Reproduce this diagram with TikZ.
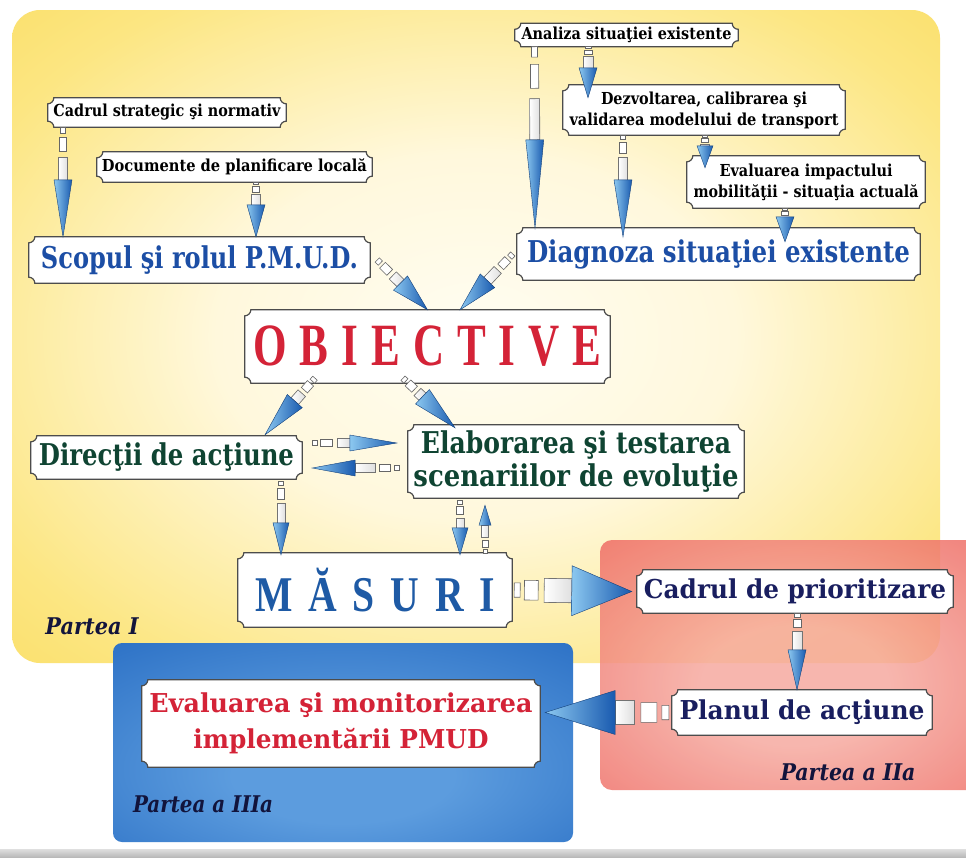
\documentclass[tikz,border=0pt]{standalone}
\usepackage{graphicx}
\usepackage{fontspec}
\setmainfont{DejaVu Serif}
\newfontfamily\timesf{Liberation Serif}
\usetikzlibrary{calc}
\pgfdeclarelayer{bg}\pgfdeclarelayer{plq}
\pgfsetlayers{bg,plq,main}

\definecolor{tblue}{RGB}{28,78,165}
\definecolor{tred}{RGB}{212,35,55}
\definecolor{tgreen}{RGB}{15,68,50}
\definecolor{tnavy}{RGB}{25,30,95}
\definecolor{mblue}{RGB}{30,90,165}
\definecolor{plab}{RGB}{18,20,60}
\definecolor{hlight}{RGB}{140,200,240}
\definecolor{hdark}{RGB}{25,90,175}
\definecolor{ywhite}{RGB}{255,253,242}
\definecolor{ypale}{RGB}{255,248,220}
\definecolor{ymid}{RGB}{252,230,130}
\definecolor{yedge}{RGB}{249,218,88}
\definecolor{ydeep}{RGB}{246,208,62}
\definecolor{rpale}{RGB}{246,170,160}
\definecolor{rdeep}{RGB}{237,96,88}
\definecolor{bpale}{RGB}{92,156,222}
\definecolor{bdeep}{RGB}{30,100,190}

\pgfdeclareradialshading{yshade}{\pgfpoint{0bp}{0bp}}{color(0bp)=(ywhite); color(14bp)=(ypale); color(30bp)=(ymid); color(42bp)=(yedge); color(71bp)=(ydeep)}
\pgfdeclareradialshading{rshade}{\pgfpoint{0bp}{-5bp}}{color(0bp)=(rpale); color(12bp)=(rpale); color(42bp)=(rdeep); color(71bp)=(rdeep)}
\pgfdeclareradialshading{bshade}{\pgfpoint{0bp}{-10bp}}{color(0bp)=(bpale); color(12bp)=(bpale); color(48bp)=(bdeep); color(71bp)=(bdeep)}

\newcommand\fitw[2]{\resizebox{#1}{\height}{#2}}

% plaque frame with concave corners around a node
\newcommand\plq[2][6pt]{%
 \begin{pgfonlayer}{plq}
 \filldraw[plqline] ([xshift=#1]#2.north west) -- ([xshift=-#1]#2.north east)
  arc[start angle=180,end angle=270,radius=#1] -- ([yshift=#1]#2.south east)
  arc[start angle=90,end angle=180,radius=#1] -- ([xshift=#1]#2.south west)
  arc[start angle=0,end angle=90,radius=#1] -- ([yshift=-#1]#2.north west)
  arc[start angle=270,end angle=360,radius=#1] -- cycle;
 \end{pgfonlayer}}

% one tail segment between fractions #1 and #2 of bs--bt, half width #3
\newcommand\tailseg[3]{%
 \filldraw[sqbox] ($(bs)!#1!(bt)!#3!90:(be)$) -- ($(bs)!#2!(bt)!#3!90:(be)$) -- ($(bs)!#2!(bt)!#3!-90:(be)$) -- ($(bs)!#1!(bt)!#3!-90:(be)$) -- cycle;}

% blue arrow: start, end, tail length, shaft half width, head length, head half width
\newcommand\blarr[6]{%
 \coordinate (bs) at #1; \coordinate (be) at #2;
 \coordinate (bt) at ($(bs)!#3!(be)$);
 \coordinate (bh) at ($(be)!#5!(bs)$);
 \pgfmathsetlengthmacro\hwa{0.6*#4}\pgfmathsetlengthmacro\hwb{0.82*#4}%
 \tailseg{0}{0.2}{\hwa}
 \tailseg{0.34}{0.8}{\hwb}
 \filldraw[shaftbox] ($(bt)!#4!90:(be)$) -- ($(bh)!#4!-90:(bs)$) -- ($(bh)!#4!90:(bs)$) -- ($(bt)!#4!-90:(be)$) -- cycle;
 \shade[headshade] (be) -- ($(bh)!#6!90:(be)$) -- ($(bh)!#6!-90:(be)$) -- cycle;
 \draw[headline] (be) -- ($(bh)!#6!90:(be)$) -- ($(bh)!#6!-90:(be)$) -- cycle;
}

\begin{document}
\begin{tikzpicture}[x=1pt,y=1pt,
 plqline/.style={fill=white,draw=black!70,line width=1.2pt},
 sqbox/.style={fill=white,draw=black!60,line width=0.6pt},
 shaftbox/.style={left color=white,right color=gray!25,draw=black!55,line width=0.6pt},
 headshade/.style={left color=hlight,right color=hdark},
 headline/.style={draw=hdark!70!black,line width=0.4pt},
 box/.style={inner sep=0pt,align=center},
 small/.style={box,font=\bfseries\fontsize{16.5}{21}\selectfont},
 title/.style={box,font=\bfseries\fontsize{30}{33}\selectfont},
 mid/.style={box,font=\bfseries\fontsize{26}{36}\selectfont},
 huge/.style={box,font=\timesf\bfseries\fontsize{60}{60}\selectfont},
 part/.style={inner sep=0pt,text=plab,font=\bfseries\itshape\fontsize{23}{24}\selectfont}]
\useasboundingbox (0,0) rectangle (966,-857);

\begin{pgfonlayer}{bg}
 \fill[white] (0,0) rectangle (966,-857);
 \shade[shading=yshade,rounded corners=28pt] (12,-10) rectangle (940,-663);
 \shade[shading=rshade,rounded corners=12pt,fill opacity=0.85] (600,-540) rectangle (990,-790);
 \shade[shading=bshade,rounded corners=9pt] (113,-643) rectangle (573,-842);
 \shade[top color=gray!25,bottom color=gray!55] (0,-849) rectangle (966,-857);
\end{pgfonlayer}

% nodes
\node[small,minimum width=238pt,minimum height=29pt] (cad) at (167,-112.5) {\fitw{227pt}{Cadrul strategic şi normativ}};
\node[small,minimum width=275pt,minimum height=30pt] (doc) at (234.5,-167) {\fitw{265pt}{Documente de planificare locală}};
\node[title,text=tblue,minimum width=341pt,minimum height=46pt] (scop) at (199.5,-260) {\fitw{317pt}{Scopul şi rolul P.M.U.D.}};
\node[small,minimum width=223pt,minimum height=23pt] (anal) at (626.5,-35) {\fitw{210pt}{Analiza situaţiei existente}};
\node[small,minimum width=282pt,minimum height=50pt] (dezv) at (704,-110) {\fitw{206pt}{Dezvoltarea, calibrarea şi}\\\fitw{269pt}{validarea modelului de transport}};
\node[small,minimum width=238pt,minimum height=52pt] (evimp) at (806,-182) {\fitw{173pt}{Evaluarea impactului}\\\fitw{225pt}{mobilităţii - situaţia actuală}};
\node[title,text=tblue,minimum width=403pt,minimum height=52pt] (diag) at (718.5,-254) {\fitw{383pt}{Diagnoza situaţiei existente}};
\node[huge,text=tred,minimum width=365pt,minimum height=73pt] (obj) at (427.5,-346.5) {\fitw{348pt}{O\hspace{18pt}B\hspace{18pt}I\hspace{18pt}E\hspace{18pt}C\hspace{18pt}T\hspace{18pt}I\hspace{18pt}V\hspace{18pt}E}};
\node[title,text=tgreen,minimum width=271pt,minimum height=43pt] (dir) at (166.5,-457.5) {\fitw{255pt}{Direcţii de acţiune}};
\node[title,text=tgreen,minimum width=336pt,minimum height=73pt] (elab) at (576,-461.5) {\fitw{310pt}{Elaborarea şi testarea}\\\fitw{325pt}{scenariilor de evoluţie}};
\node[huge,text=mblue,font=\timesf\bfseries\fontsize{50}{50}\selectfont,minimum width=274pt,minimum height=74pt] (mas) at (375,-590) {\fitw{240pt}{M\hspace{20pt}Ă\hspace{20pt}S\hspace{20pt}U\hspace{20pt}R\hspace{20pt}I}};
\node[mid,text=tnavy,minimum width=316pt,minimum height=43pt] (cadp) at (795,-591.5) {\fitw{302pt}{Cadrul de prioritizare}};
\node[mid,text=tnavy,minimum width=260pt,minimum height=45pt] (plan) at (802,-712.5) {\fitw{245pt}{Planul de acţiune}};
\node[mid,text=tred,minimum width=398pt,minimum height=87pt] (evmon) at (341,-723.5) {\fitw{383pt}{Evaluarea şi monitorizarea}\\\fitw{295pt}{implementării PMUD}};

\foreach \n in {cad,doc,scop,anal,dezv,evimp,diag,obj,dir,elab,mas,cadp,plan,evmon}{\plq{\n}}

% part labels
\node[part] (p1) at (92,-626) {\fitw{93pt}{Partea I}};
\node[part] (p2) at (848,-772) {\fitw{135pt}{Partea a IIa}};
\node[part] (p3) at (203,-804) {\fitw{140pt}{Partea a IIIa}};

% arrows
\blarr{([xshift=-104pt]cad.south)}{([xshift=-136.5pt]scop.north)}{30pt}{4.5pt}{57pt}{9pt}
\blarr{([xshift=21.5pt]doc.south)}{([xshift=56.5pt]scop.north)}{12pt}{4.5pt}{32pt}{9pt}
\blarr{([xshift=-92pt]anal.south)}{([xshift=-183.5pt]diag.north)}{52pt}{5pt}{88pt}{9pt}
\blarr{([xshift=-38.5pt]anal.south)}{([xshift=-116pt,yshift=-13pt]dezv.north)}{10pt}{5pt}{30pt}{9pt}
\blarr{([xshift=-81pt]dezv.south)}{([xshift=-95.5pt,yshift=-9pt]diag.north)}{22pt}{4.5pt}{57pt}{9pt}
\blarr{([xshift=1pt]dezv.south)}{([xshift=-101pt,yshift=-12pt]evimp.north)}{9pt}{4.5pt}{22pt}{8pt}
\blarr{([xshift=-21pt]evimp.south)}{([xshift=66.5pt,yshift=-14pt]diag.north)}{9pt}{4.5pt}{25pt}{9pt}
\blarr{([xshift=7pt]scop.east)}{(obj.north)}{22pt}{5pt}{38pt}{10pt}
\blarr{([xshift=-4pt]diag.west)}{([xshift=32.5pt]obj.north)}{22pt}{5pt}{40pt}{10pt}
\blarr{([xshift=-112.5pt,yshift=5pt]obj.south)}{([xshift=98.5pt,yshift=1pt]dir.north)}{20pt}{5pt}{45pt}{10pt}
\blarr{([xshift=-24.5pt,yshift=5pt]obj.south)}{([xshift=-121pt,yshift=-3pt]elab.north)}{20pt}{5pt}{45pt}{10pt}
\blarr{([xshift=10pt,yshift=14.5pt]dir.east)}{([xshift=-11pt,yshift=18.5pt]elab.west)}{25pt}{4.5pt}{47pt}{8pt}
\blarr{([xshift=-9pt,yshift=-6.5pt]elab.west)}{([xshift=10pt,yshift=-10.5pt]dir.east)}{24pt}{4.5pt}{43pt}{8pt}
\blarr{([xshift=114.5pt,yshift=-2pt]dir.south)}{([xshift=-94pt,yshift=-2pt]mas.north)}{22pt}{4pt}{32pt}{8pt}
\blarr{([xshift=-116pt,yshift=-2pt]elab.south)}{([xshift=85pt,yshift=-2pt]mas.north)}{18pt}{4pt}{27pt}{8pt}
\blarr{([xshift=110pt]mas.north)}{([xshift=-91pt,yshift=-7pt]elab.south)}{16pt}{3.5pt}{20pt}{6pt}
\blarr{([xshift=2pt]mas.east)}{([xshift=-5pt]cadp.west)}{30pt}{12pt}{60pt}{25pt}
\blarr{([xshift=2pt]cadp.south)}{([xshift=-5pt]plan.north)}{18pt}{5pt}{40pt}{9pt}
\blarr{([xshift=-3pt]plan.west)}{([xshift=5pt,yshift=11pt]evmon.east)}{35pt}{12pt}{70pt}{22pt}
\end{tikzpicture}
\end{document}
